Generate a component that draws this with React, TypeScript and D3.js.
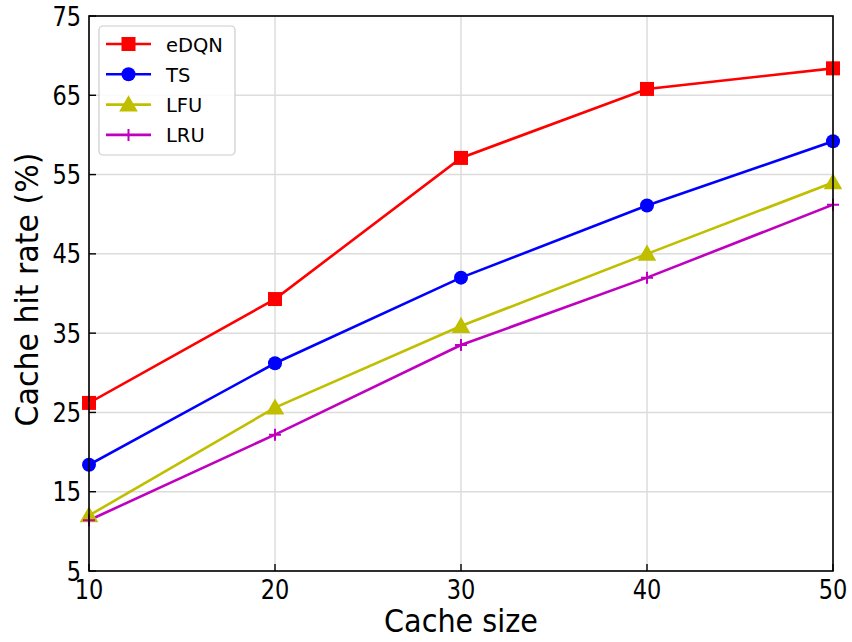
import React from "react";
import * as d3 from "d3";

const cacheSizes = [10, 20, 30, 40, 50];
const edqn = [26.2, 39.3, 57.1, 65.8, 68.4];
const ts = [18.4, 31.2, 42.0, 51.1, 59.2];
const lfu = [12.0, 25.6, 35.9, 45.0, 54.0];
const lru = [11.4, 22.2, 33.5, 42.0, 51.2];
const xTicks = [10, 20, 30, 40, 50];
const yTicks = [5, 15, 25, 35, 45, 55, 65, 75];

type Marker = "square" | "circle" | "triangle" | "plus";
const series: { name: string; values: number[]; color: string; marker: Marker }[] = [
  { name: "eDQN", values: edqn, color: "#ff0000", marker: "square" },
  { name: "TS", values: ts, color: "#0000ff", marker: "circle" },
  { name: "LFU", values: lfu, color: "#bfbf00", marker: "triangle" },
  { name: "LRU", values: lru, color: "#bf00bf", marker: "plus" },
];

const W = 852;
const H = 642;
const M = { left: 89, right: 852 - 833, top: 16, bottom: 642 - 571 };
const FONT = "'DejaVu Sans', sans-serif";

function MarkerShape({ kind, x, y, color }: { kind: Marker; x: number; y: number; color: string }) {
  if (kind === "square") return <rect x={x - 7} y={y - 7} width={14} height={14} fill={color} />;
  if (kind === "circle") return <circle cx={x} cy={y} r={7} fill={color} />;
  if (kind === "triangle") {
    const p = d3.symbol().type(d3.symbolTriangle).size(150)();
    return <path d={p ?? ""} transform={`translate(${x},${y + 1.5})`} fill={color} />;
  }
  return (
    <path d={`M${x - 6},${y}H${x + 6}M${x},${y - 6}V${y + 6}`} stroke={color} strokeWidth={2} fill="none" />
  );
}

// Text drawn with a slight vertical stretch
function TallText({
  x,
  y,
  size,
  anchor,
  sy,
  rotate = 0,
  children,
}: {
  x: number;
  y: number;
  size: number;
  anchor: "start" | "middle" | "end";
  sy: number;
  rotate?: number;
  children: React.ReactNode;
}) {
  return (
    <text
      transform={`translate(${x},${y}) rotate(${rotate}) scale(1,${sy})`}
      fontSize={size}
      textAnchor={anchor}
      fill="#000"
    >
      {children}
    </text>
  );
}

export default function App() {
  const x = d3.scaleLinear().domain([10, 50]).range([M.left, W - M.right]);
  const y = d3.scaleLinear().domain([5, 75]).range([H - M.bottom, M.top]);
  const line = d3
    .line<[number, number]>()
    .x((d) => x(d[0]))
    .y((d) => y(d[1]));

  const x0 = M.left;
  const x1 = W - M.right;
  const y0 = H - M.bottom;
  const y1 = M.top;

  return (
    <svg width={W} height={H} style={{ position: "absolute", left: 0, top: 0, background: "#fff" }} fontFamily={FONT}>
      <defs>
        <clipPath id="plot">
          <rect x={x0} y={y1} width={x1 - x0} height={y0 - y1} />
        </clipPath>
      </defs>
      <rect width={W} height={H} fill="#fff" />
      {/* grid */}
      <g stroke="#dcdcdc" strokeWidth={1.5}>
        {xTicks.map((t) => (
          <line key={`gx${t}`} x1={x(t)} x2={x(t)} y1={y1} y2={y0} />
        ))}
        {yTicks.map((t) => (
          <line key={`gy${t}`} x1={x0} x2={x1} y1={y(t)} y2={y(t)} />
        ))}
      </g>
      {/* series */}
      <g clipPath="url(#plot)">
        {series.map((s) => (
          <path
            key={s.name}
            d={line(cacheSizes.map((c, i) => [c, s.values[i]] as [number, number])) ?? ""}
            fill="none"
            stroke={s.color}
            strokeWidth={2.6}
          />
        ))}
      </g>
      {series.map((s) => (
        <g key={`m${s.name}`}>
          {cacheSizes.map((c, i) => (
            <MarkerShape key={c} kind={s.marker} x={x(c)} y={y(s.values[i])} color={s.color} />
          ))}
        </g>
      ))}
      {/* frame */}
      <rect x={x0} y={y1} width={x1 - x0} height={y0 - y1} fill="none" stroke="#000" strokeWidth={1.6} />
      {/* ticks (inward) */}
      <g stroke="#000" strokeWidth={1.4}>
        {xTicks.map((t) => (
          <line key={`tx${t}`} x1={x(t)} x2={x(t)} y1={y0} y2={y0 - 7} />
        ))}
        {yTicks.map((t) => (
          <line key={`ty${t}`} x1={x0} x2={x0 + 7} y1={y(t)} y2={y(t)} />
        ))}
      </g>
      {xTicks.map((t) => (
        <TallText key={`lx${t}`} x={x(t)} y={y0 + 27.5} size={22.5} anchor="middle" sy={1.15}>
          {t}
        </TallText>
      ))}
      {yTicks.map((t) => (
        <TallText key={`ly${t}`} x={x0 - 8} y={y(t) + 9.5} size={22.5} anchor="end" sy={1.15}>
          {t}
        </TallText>
      ))}
      <TallText x={(x0 + x1) / 2} y={632} size={28.7} anchor="middle" sy={1.1}>
        Cache size
      </TallText>
      <TallText x={38} y={(y0 + y1) / 2 - 4} size={30} anchor="middle" sy={1.05} rotate={-90}>
        Cache hit rate (%)
      </TallText>
      {/* legend */}
      <g>
        <rect x={99} y={26} width={136} height={129} rx={4} fill="#fff" fillOpacity={0.85} stroke="#cccccc" strokeWidth={1.2} />
        {series.map((s, i) => {
          const ly = 44 + i * 30.3;
          return (
            <g key={`lg${s.name}`}>
              <line x1={106} x2={151} y1={ly} y2={ly} stroke={s.color} strokeWidth={2.6} />
              <MarkerShape kind={s.marker} x={128.5} y={ly} color={s.color} />
              <text x={166} y={ly + 7.5} fontSize={19.5} fill="#000">
                {s.name}
              </text>
            </g>
          );
        })}
      </g>
    </svg>
  );
}
